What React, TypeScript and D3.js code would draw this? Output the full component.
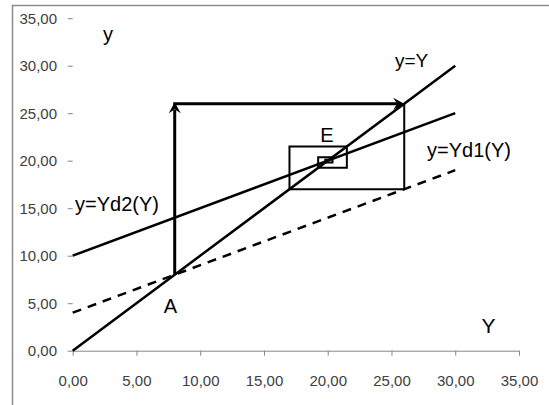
import React, { useEffect, useRef } from "react";
import * as d3 from "d3";

const xTicks = [0, 5, 10, 15, 20, 25, 30, 35];
const yTicks = [0, 5, 10, 15, 20, 25, 30, 35];
const identityLine = [ { Y: 0, y: 0 }, { Y: 30, y: 30 } ];
const solidLine = [ { Y: 0, y: 10 }, { Y: 30, y: 25 } ];
const dashedLine = [ { Y: 0, y: 4 }, { Y: 30, y: 19 } ];
const cobweb = [8, 26, 17, 21.5, 19.25, 20.375, 19.8125, 20.1];

const W = 549, H = 405;
const FONT = "'Liberation Sans', Arial, sans-serif";

export default function App() {
  const gx = useRef<SVGGElement>(null);
  const gy = useRef<SVGGElement>(null);
  const x = d3.scaleLinear().domain([0, 35]).range([72.7, 519]);
  const y = d3.scaleLinear().domain([0, 35]).range([350.7, 18.2]);
  const fmt = (v: number) => d3.format(".2f")(v).replace(".", ",");

  useEffect(() => {
    const ax = d3.axisBottom(x).tickValues(xTicks).tickSize(5).tickPadding(19.3).tickFormat((d: any) => fmt(d));
    const sx = d3.select(gx.current!);
    sx.call(ax as any);
    sx.select(".domain").attr("stroke", "#868686").attr("d", `M${x(0)},0.5H${x(35)}`);
    sx.selectAll(".tick line").attr("stroke", "#868686");
    sx.selectAll(".tick text").attr("fill", "#404040").style("font-size", "15px").style("font-family", FONT);

    const ay = d3.axisLeft(y).tickValues(yTicks).tickSize(5).tickPadding(10.7).tickFormat((d: any) => fmt(d));
    const sy = d3.select(gy.current!);
    sy.call(ay as any);
    sy.select(".domain").remove();
    sy.selectAll(".tick line").attr("stroke", "#868686");
    sy.selectAll(".tick text").attr("fill", "#404040").style("font-size", "15px").style("font-family", FONT);
  }, []);

  const line = d3.line<{ Y: number; y: number }>().x(d => x(d.Y)).y(d => y(d.y));

  // cobweb points
  const pts: [number, number][] = [];
  for (let i = 0; i < cobweb.length - 1; i++) {
    pts.push([cobweb[i], cobweb[i]]);
    pts.push([cobweb[i], cobweb[i + 1]]);
  }
  pts.push([cobweb[cobweb.length - 1], cobweb[cobweb.length - 1]]);
  const pline = d3.line<[number, number]>().x(d => x(d[0])).y(d => y(d[1]));
  const restPts = pts.slice(2);

  const A = pts[0], B = pts[1], C = pts[2];
  const arrow = (tx: number, ty: number, angle: number) => (
    <path d="M0,0 L-11,-6 L-7,0 L-11,6 Z" fill="#000" transform={`translate(${tx},${ty}) rotate(${angle})`} />
  );

  const lbl = { fontFamily: FONT, fill: "#000" } as React.CSSProperties;

  return (
    <svg width={W} height={H} style={{ position: "absolute", left: 0, top: 0, background: "#fff" }}>
      <rect x={12.5} y={5.5} width={W + 20} height={H + 20} fill="#fff" stroke="#8c8c8c" strokeWidth={1.5} />
      <g ref={gx} transform={`translate(0,${y(0)})`} />
      <g ref={gy} transform={`translate(${x(0)},0)`} />

      <path d={line(dashedLine)!} stroke="#000" strokeWidth={2.5} fill="none" strokeDasharray="9 7" />
      <path d={line(solidLine)!} stroke="#000" strokeWidth={2.5} fill="none" />
      <path d={line(identityLine)!} stroke="#000" strokeWidth={2.5} fill="none" />

      <path d={pline(restPts)!} stroke="#000" strokeWidth={2} fill="none" />
      <path d={`M${x(A[0])},${y(A[1])}V${y(B[1]) + 6}`} stroke="#000" strokeWidth={3} fill="none" />
      {arrow(x(B[0]), y(B[1]) - 1.5, -90)}
      <path d={`M${x(B[0]) - 1.5},${y(B[1])}H${x(C[0]) - 6}`} stroke="#000" strokeWidth={3} fill="none" />
      {arrow(x(C[0]), y(C[1]), 0)}

      <text x={108} y={41} fontSize={20} textAnchor="middle" style={lbl}>y</text>
      <text x={395} y={67} fontSize={19} style={lbl}>y=Y</text>
      <text x={327} y={142} fontSize={20} textAnchor="middle" style={lbl}>E</text>
      <text x={427} y={157} fontSize={20} style={lbl}>y=Yd1(Y)</text>
      <text x={75} y={211} fontSize={20} style={lbl}>y=Yd2(Y)</text>
      <text x={170.5} y={313} fontSize={20} textAnchor="middle" style={lbl}>A</text>
      <text x={488.5} y={333} fontSize={21} textAnchor="middle" style={lbl}>Y</text>
    </svg>
  );
}
